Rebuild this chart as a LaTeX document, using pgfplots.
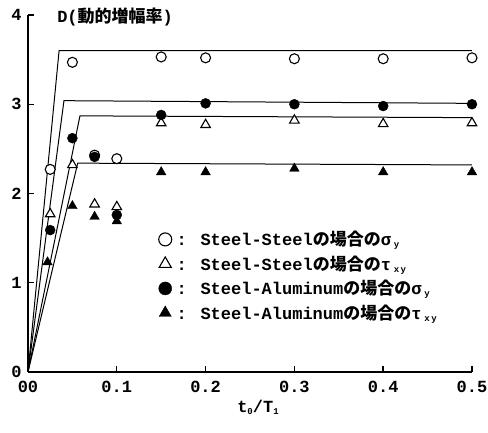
\documentclass[border=0pt]{standalone}
\usepackage{fontspec}
\usepackage{pgfplots}
\pgfplotsset{compat=1.18}
\newfontfamily\mono{Liberation Mono}
\newfontfamily\cjk{Noto Sans CJK JP}
\newcommand\lab{\fontsize{17}{20}\selectfont\mono\bfseries}
\newcommand\sub[1]{\,{\fontsize{9}{9}\selectfont\raisebox{-2pt}{#1}}}
\newcommand\subn[1]{{\fontsize{9}{9}\selectfont\raisebox{-2pt}{#1}}}
\pgfplotstableread{
x y
0.025 2.27
0.05 3.47
0.075 2.43
0.1 2.39
0.15 3.53
0.2 3.52
0.3 3.51
0.4 3.51
0.5 3.52
}\ssSigma
\pgfplotstableread{
x y
0.025 1.77
0.05 2.32
0.075 1.88
0.1 1.85
0.15 2.79
0.2 2.77
0.3 2.82
0.4 2.78
0.5 2.79
}\ssTau
\pgfplotstableread{
x y
0.025 1.59
0.05 2.62
0.075 2.41
0.1 1.76
0.15 2.88
0.2 3.01
0.3 3.00
0.4 2.98
0.5 3.00
}\saSigma
\pgfplotstableread{
x y
0.022 1.23
0.05 1.86
0.075 1.74
0.1 1.69
0.15 2.24
0.2 2.24
0.3 2.28
0.4 2.24
0.5 2.24
}\saTau
\begin{document}
\begin{tikzpicture}
\useasboundingbox (0,0) rectangle (488pt,433pt);
\begin{axis}[
  at={(28pt,61pt)}, anchor=south west,
  scale only axis, width=444pt, height=357pt,
  xmin=0, xmax=0.5, ymin=0, ymax=4,
  axis lines*=left,
  axis line style={line width=1.6pt},
  clip=false,
  xtick={0,0.1,0.2,0.3,0.4,0.5},
  xticklabels={00,0.1,0.2,0.3,0.4,0.5},
  ytick={0,1,2,3,4},
  yticklabels={0,1,2,3,4},
  tick align=inside,
  major tick length=6pt,
  tick style={line width=1.4pt, black},
  ticklabel style={font=\lab},
  xticklabel style={yshift=-6pt},
  yticklabel style={xshift=-3pt},
  legend style={at={(axis cs:0.147,1.60)}, anchor=north west, draw=none, fill=none,
    font=\lab, row sep=4.5pt, inner sep=0pt},
  legend cell align=left,
]
\addplot[black, line width=1pt, forget plot] coordinates {(0,0) (0.035,3.60) (0.5,3.60)};
\addplot[black, line width=1pt, forget plot] coordinates {(0,0) (0.0405,3.04) (0.5,3.01)};
\addplot[black, line width=1pt, forget plot] coordinates {(0,0) (0.0585,2.87) (0.5,2.85)};
\addplot[black, line width=1pt, forget plot] coordinates {(0,0) (0.056,2.34) (0.5,2.32)};

\addplot[only marks, mark=*, mark size=5pt, mark options={fill=white, draw=black, line width=1.1pt},
  legend image post style={mark size=6.5pt}] table[x=x,y=y] {\ssSigma};
\addlegendentry{\hspace{3pt}: Steel-Steel{\cjk の場合の}σ\sub{y}}
\addplot[only marks, mark=triangle*, mark size=5.5pt, mark options={fill=white, draw=black, line width=1.1pt},
  legend image post style={mark size=7pt}] table[x=x,y=y] {\ssTau};
\addlegendentry{\hspace{3pt}: Steel-Steel{\cjk の場合の}τ\sub{x\,y}}
\addplot[only marks, mark=*, mark size=5pt, mark options={fill=black, draw=black}, 
  legend image post style={mark size=6.5pt}] table[x=x,y=y] {\saSigma};
\addlegendentry{\hspace{3pt}: Steel-Aluminum{\cjk の場合の}σ\sub{y}}
\addplot[only marks, mark=triangle*, mark size=5.5pt, mark options={fill=black, draw=black},
  legend image post style={mark size=7pt}] table[x=x,y=y] {\saTau};
\addlegendentry{\hspace{3pt}: Steel-Aluminum{\cjk の場合の}τ\sub{x\,y}}

\node[anchor=west, font=\lab, yshift=-2pt] at (axis cs:0.029,4) {D({\cjk 動的増幅率})};
\node[font=\lab, anchor=center] at (axis cs:0.259,0) [yshift=-35pt] {t\subn{0}/T\subn{1}};
\end{axis}
\end{tikzpicture}
\end{document}
